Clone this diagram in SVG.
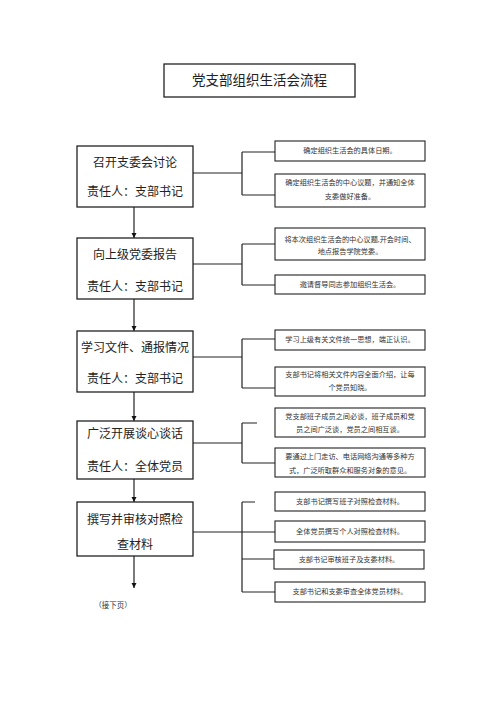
<svg xmlns="http://www.w3.org/2000/svg" width="500" height="707" viewBox="0 0 500 707">
<style>
.box{fill:#fff;stroke:#222;stroke-width:1.3}
.sbox{fill:#fff;stroke:#222;stroke-width:1.1}
.ln{fill:none;stroke:#222;stroke-width:1.2}
.t{font-family:"Liberation Serif","Noto Sans CJK SC",serif;fill:#222;text-anchor:middle;dominant-baseline:central}
.m{font-size:12px}
.s{font-size:7.2px;fill:#333}
.ti{font-size:13.5px}
</style>
<defs>
<marker id="ah" viewBox="0 0 10 10" refX="10" refY="5" markerWidth="5" markerHeight="6" markerUnits="userSpaceOnUse" orient="auto">
<path d="M0,0 L10,5 L0,10 z" fill="#111"/>
</marker>
</defs>
<rect width="500" height="707" fill="#fff"/>
<g id="title">
<rect class="box" x="164" y="64" width="191" height="33"/>
<text class="t ti" x="259.5" y="80.5">党支部组织生活会流程</text>
</g>
<g id="connectors">
<line class="ln" x1="134" y1="207" x2="134" y2="238" marker-end="url(#ah)"/>
<line class="ln" x1="134" y1="299" x2="134" y2="331" marker-end="url(#ah)"/>
<line class="ln" x1="134" y1="392" x2="134" y2="421" marker-end="url(#ah)"/>
<line class="ln" x1="134" y1="479" x2="134" y2="502" marker-end="url(#ah)"/>
<line class="ln" x1="134" y1="556" x2="134" y2="588" marker-end="url(#ah)"/>
<path class="ln" d="M193,173 H242 M242,152 V195 M242,152 H275 M242,195 H275"/>
<path class="ln" d="M193,264 H242 M242,244 V285 M242,244 H275 M242,285 H275"/>
<path class="ln" d="M193,357 H242 M242,339 V388 M242,339 H275 M242,388 H275"/>
<path class="ln" d="M193,443 H242 M242,423 V463 M242,423 H257 M242,463 H275"/>
<path class="ln" d="M193,532 H275 M242,502 V592 M242,502 H255 M242,559 H274 M242,592 H275"/>
</g>
<g id="n1">
<rect class="box" x="77" y="146" width="116" height="61"/>
<text class="t m" x="135" y="163">召开支委会讨论</text>
<text class="t m" x="135" y="192">责任人：支部书记</text>
</g>
<g id="n1a">
<rect class="sbox" x="275" y="141" width="150" height="20"/>
<text class="t s" x="350" y="151">确定组织生活会的具体日期。</text>
</g>
<g id="n1b">
<rect class="sbox" x="275" y="174" width="150" height="33"/>
<text class="t s" x="350" y="183">确定组织生活会的中心议题，并通知全体</text>
<text class="t s" x="350" y="197">支委做好准备。</text>
</g>
<g id="n2">
<rect class="box" x="77" y="238" width="116" height="61"/>
<text class="t m" x="135" y="255">向上级党委报告</text>
<text class="t m" x="135" y="287">责任人：支部书记</text>
</g>
<g id="n2a">
<rect class="sbox" x="275" y="228" width="150" height="32"/>
<text class="t s" x="350" y="240">将本次组织生活会的中心议题,开会时间、</text>
<text class="t s" x="350" y="252">地点报告学院党委。</text>
</g>
<g id="n2b">
<rect class="sbox" x="275" y="275" width="150" height="19"/>
<text class="t s" x="350" y="285">邀请督导同志参加组织生活会。</text>
</g>
<g id="n3">
<rect class="box" x="77" y="331" width="116" height="61"/>
<text class="t m" x="135" y="348">学习文件、通报情况</text>
<text class="t m" x="135" y="379">责任人：支部书记</text>
</g>
<g id="n3a">
<rect class="sbox" x="275" y="330" width="150" height="20"/>
<text class="t s" x="350" y="340">学习上级有关文件统一思想，端正认识。</text>
</g>
<g id="n3b">
<rect class="sbox" x="275" y="367" width="150" height="29"/>
<text class="t s" x="350" y="375">支部书记将相关文件内容全面介绍，让每</text>
<text class="t s" x="350" y="388">个党员知晓。</text>
</g>
<g id="n4">
<rect class="box" x="77" y="421" width="116" height="58"/>
<text class="t m" x="135" y="434">广泛开展谈心谈话</text>
<text class="t m" x="135" y="467">责任人：全体党员</text>
</g>
<g id="n4a">
<rect class="sbox" x="275" y="408" width="150" height="29"/>
<text class="t s" x="350" y="417">党支部班子成员之间必谈，班子成员和党</text>
<text class="t s" x="350" y="430">员之间广泛谈，党员之间相互谈。</text>
</g>
<g id="n4b">
<rect class="sbox" x="275" y="448" width="150" height="29"/>
<text class="t s" x="350" y="457">要通过上门走访、电话网络沟通等多种方</text>
<text class="t s" x="350" y="471">式，广泛听取群众和服务对象的意见。</text>
</g>
<g id="n5">
<rect class="box" x="77" y="502" width="116" height="54"/>
<text class="t m" x="135" y="520">撰写并审核对照检</text>
<text class="t m" x="135" y="545">查材料</text>
</g>
<g id="n5a">
<rect class="sbox" x="275" y="492" width="150" height="19"/>
<text class="t s" x="350" y="502">支部书记撰写班子对照检查材料。</text>
</g>
<g id="n5b">
<rect class="sbox" x="275" y="521" width="150" height="21"/>
<text class="t s" x="350" y="532">全体党员撰写个人对照检查材料。</text>
</g>
<g id="n5c">
<rect class="sbox" x="274" y="550" width="150" height="19"/>
<text class="t s" x="349" y="560">支部书记审核班子及支委材料。</text>
</g>
<g id="n5d">
<rect class="sbox" x="275" y="582" width="150" height="20"/>
<text class="t s" x="350" y="592">支部书记和支委审查全体党员材料。</text>
</g>
<g id="note">
<text class="t s" x="113" y="605" style="font-size:7.5px">（接下页）</text>
</g>
</svg>
